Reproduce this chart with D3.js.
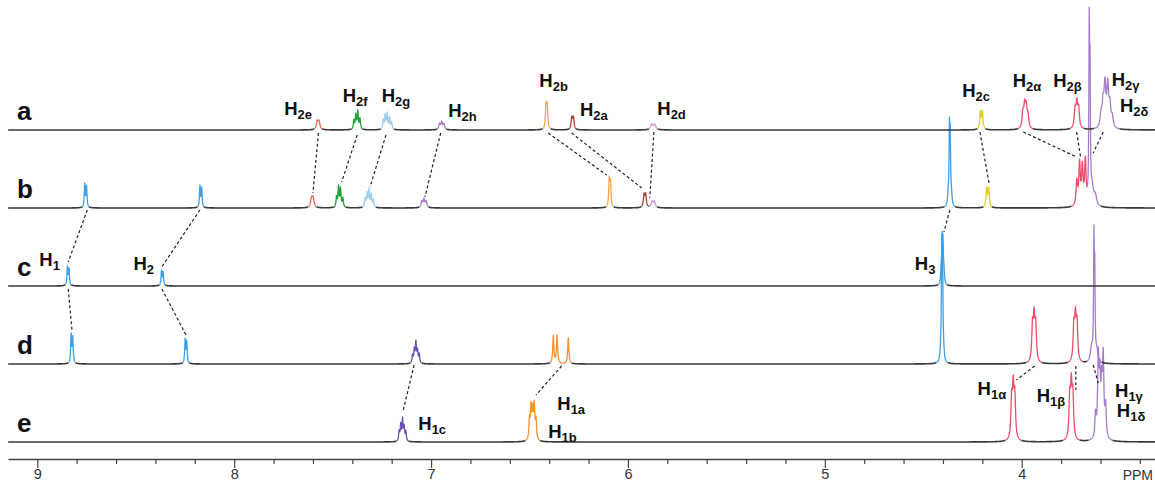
<!DOCTYPE html>
<html>
<head>
<meta charset="utf-8">
<script src="https://cdn.jsdelivr.net/npm/d3@7"></script>
<style>
  html, body { margin: 0; padding: 0; background: #fff; }
  svg { display: block; }
</style>
</head>
<body>
<svg id="chart" width="1155" height="483"></svg>
<script>
// Stacked 1H NMR spectra (traces a–e), chemical shift in ppm.
const traces = ['a', 'b', 'c', 'd', 'e'];

// Multiplets: [group, observed height, line half-width (ppm), [[shift, relative intensity, (own width)], ...]]
const peaksA = [
  ['H2e', 10, 0.0055, [[7.578, 1], [7.569, 1]]],
  ['H2f', 20, 0.0032, [[7.392, .5], [7.382, .8], [7.372, 1], [7.361, .6]]],
  ['H2g', 18, 0.0032, [[7.243, .6], [7.233, .9], [7.223, 1], [7.211, .75], [7.200, .45]]],
  ['H2h', 9, 0.0045, [[6.957, .75], [6.946, 1], [6.935, .75]]],
  ['H2b', 29, 0.0035, [[6.416, 1], [6.410, .95]]],
  ['H2a', 14, 0.004, [[6.285, 1], [6.277, 1]]],
  ['H2d', 6, 0.007, [[5.879, 1], [5.864, 1]]],
  ['H2c', 20, 0.0038, [[4.210, .95], [4.200, 1]]],
  ['Hab', 31, 0.005, [[3.994, .7], [3.985, 1], [3.977, .9], [3.968, .55]]],
  ['Hab', 32, 0.005, [[3.729, .75], [3.720, 1], [3.711, .8]]],
  ['Hgd', 53, 0.0055, [[3.597, .3], [3.587, .55], [3.577, 1], [3.563, 1], [3.552, .5], [3.540, .25]]]
];
const peaksB = [
  ['Hpy', 25, 0.0028, [[8.759, 1], [8.750, .9]]],
  ['Hpy', 23, 0.0028, [[8.174, 1], [8.165, .9]]],
  ['H2e', 12, 0.0055, [[7.607, 1], [7.599, 1]]],
  ['H2f', 23, 0.0032, [[7.480, .5], [7.470, 1], [7.460, .9], [7.448, .45]]],
  ['H2g', 20, 0.0032, [[7.335, .5], [7.325, .8], [7.315, 1], [7.304, .75], [7.293, .45]]],
  ['H2h', 10, 0.0045, [[7.047, .75], [7.036, 1], [7.025, .75]]],
  ['H2b', 32, 0.0032, [[6.095, 1], [6.089, .9]]],
  ['H2a', 15, 0.004, [[5.918, 1], [5.910, 1]]],
  ['H2d', 7, 0.006, [[5.877, 1], [5.866, 1]]],
  ['Hpy', 91, 0.0022, [[4.367, 1], [4.363, .9], [4.373, .15, 0.004], [4.357, .15, 0.004]]],
  ['H2c', 21, 0.0038, [[4.178, 1], [4.168, 1]]],
  ['Hab', 48, 0.0045, [[3.720, .55], [3.706, .95], [3.692, .85], [3.677, 1]]],
  ['Hgd', 198, 0.0022, [[3.657, 1], [3.653, .7], [3.642, .1, 0.008], [3.626, .06, 0.008]]]
];
const peaksC = [
  ['Hpy', 20, 0.0028, [[8.847, 1], [8.839, .9]]],
  ['Hpy', 16, 0.0028, [[8.369, 1], [8.361, .9]]],
  ['Hpy', 55, 0.0024, [[4.404, 1], [4.400, .92], [4.409, .3, 0.003], [4.395, .3, 0.003]]]
];
const peaksD = [
  ['Hpy', 31, 0.0028, [[8.828, 1], [8.820, .9]]],
  ['Hpy', 26, 0.0028, [[8.249, 1], [8.241, .9]]],
  ['H1c', 24, 0.003, [[7.094, .4], [7.085, .65], [7.077, 1], [7.069, .6], [7.060, .45]]],
  ['H1ab', 29, 0.0035, [[6.379, 1], [6.360, 1], [6.303, .93]]],
  ['Hpy', 130, 0.0022, [[4.406, 1], [4.402, .9], [4.411, .08, 0.004], [4.397, .08, 0.004]]],
  ['Hab', 57, 0.0045, [[3.945, .85], [3.937, 1], [3.929, .85]]],
  ['Hab', 57, 0.0045, [[3.735, .85], [3.727, 1], [3.719, .9]]],
  ['Hgd', 139, 0.0022, [[3.633, 1], [3.629, .7], [3.645, .13, 0.007], [3.618, .1, 0.007]]]
];
const peaksE = [
  ['H1c', 25, 0.003, [[7.162, .45], [7.154, .75], [7.145, 1], [7.137, .65], [7.128, .45]]],
  ['H1ab', 42, 0.0035, [[6.500, .6], [6.492, .95], [6.484, .8], [6.476, 1], [6.467, .6]]],
  ['Hab', 67, 0.0045, [[4.051, .8], [4.043, 1], [4.035, .85]]],
  ['Hab', 69, 0.0045, [[3.756, .8], [3.748, 1], [3.740, .85]]],
  ['Hgd', 95, 0.004, [[3.625, .3], [3.611, 1], [3.603, .7], [3.594, .6], [3.586, 1], [3.574, .4]]]
];
const peaksByTrace = { a: peaksA, b: peaksB, c: peaksC, d: peaksD, e: peaksE };

// Assignment labels: [trace, main, subscript, left shift (ppm), height above baseline]
const labels = [
  ['a', 'H', '2e', 7.746, 15], ['a', 'H', '2f', 7.449, 28], ['a', 'H', '2g', 7.251, 28],
  ['a', 'H', '2h', 6.913, 13], ['a', 'H', '2b', 6.450, 43], ['a', 'H', '2a', 6.244, 14],
  ['a', 'H', '2d', 5.851, 15], ['a', 'H', '2c', 4.302, 33], ['a', 'H', '2α', 4.046, 43],
  ['a', 'H', '2β', 3.840, 43], ['a', 'H', '2γ', 3.543, 44], ['a', 'H', '2δ', 3.501, 18],
  ['c', 'H', '1', 8.990, 20], ['c', 'H', '2', 8.512, 16], ['c', 'H', '3', 4.543, 16],
  ['e', 'H', '1c', 7.065, 12], ['e', 'H', '1a', 6.359, 32], ['e', 'H', '1b', 6.405, 4],
  ['e', 'H', '1α', 4.224, 47], ['e', 'H', '1β', 3.924, 40], ['e', 'H', '1γ', 3.526, 45],
  ['e', 'H', '1δ', 3.517, 25]
];

// Correlation links between traces: [[trace, shift, height], [trace, shift, height]]
const links = [
  [['a', 7.572, -3], ['b', 7.600, 15]], [['a', 7.375, -5], ['b', 7.454, 26]],
  [['a', 7.229, -5], ['b', 7.310, 21]], [['a', 6.951, -3], ['b', 7.031, 11]],
  [['a', 6.405, -3], ['b', 6.108, 33]], [['a', 6.286, -3], ['b', 5.930, 20]],
  [['a', 5.868, -2], ['b', 5.889, 10]], [['a', 4.212, -2], ['b', 4.165, 24]],
  [['a', 3.992, -2], ['b', 3.721, 51]], [['a', 3.721, -2], ['b', 3.701, 51]],
  [['a', 3.586, -2], ['b', 3.637, 55]],
  [['b', 8.746, -2], ['c', 8.843, 24]], [['b', 8.174, -2], ['c', 8.368, 19]],
  [['b', 4.365, -2], ['c', 4.395, 54]],
  [['c', 8.843, -3], ['d', 8.824, 34]], [['c', 8.367, -3], ['d', 8.245, 29]],
  [['d', 7.086, -1], ['e', 7.141, 32]], [['d', 6.337, -2], ['e', 6.467, 47]],
  [['d', 3.934, -2], ['e', 4.027, 62]], [['d', 3.725, -2], ['e', 3.725, 52]],
  [['d', 3.637, -1], ['e', 3.611, 59]]
];

const majorTicks = [9, 8, 7, 6, 5, 4];
const axisUnit = 'PPM';

const groupColor = {
  H2e: '#f0654f', H2f: '#20a238', H2g: '#9fd2ea', H2h: '#a47bc6', H2b: '#f9a54c',
  H2a: '#a3452f', H2d: '#d68bcb', H2c: '#e3cc26', Hab: '#ef4c68', Hgd: '#a67ccb',
  Hpy: '#3d9fe8', H1c: '#6a50b6', H1ab: '#f7922c'
};

const W = 1155, H = 483;
const svg = d3.select('#chart');
const font = '"Liberation Sans", Arial, Helvetica, sans-serif';

const x = d3.scaleLinear().domain([9, 4]).range([37.3, 1021.7]);
const ppmLeft = x.invert(8), ppmRight = x.invert(W);
const yTrace = d3.scalePoint().domain(traces).range([130, 442]);
const yInt = d3.scaleLinear().domain([0, 100]).range([0, 100]);
const yOf = (t, v) => yTrace(t) - yInt(v);

// Lorentzian line shape
const lor = (p, p0, w) => 1 / (1 + ((p - p0) / w) * ((p - p0) / w));

function buildTrace(t) {
  const mults = peaksByTrace[t].map(([group, height, w, lines]) => {
    const ls = lines.map(([p0, r, ow]) => ({ p0, r, w: ow || w }));
    const f = p => d3.sum(ls, l => l.r * lor(p, l.p0, l.w));
    const lo = d3.min(ls, l => l.p0), hi = d3.max(ls, l => l.p0);
    let peak = 0;
    for (let p = lo - 0.01; p <= hi + 0.01; p += 0.0002) peak = Math.max(peak, f(p));
    ls.forEach(l => { peak = Math.max(peak, f(l.p0)); });
    const k = height / peak;
    const pad = Math.max(0.011, w * Math.sqrt(height) * 0.9);
    return { group, fn: p => k * f(p), lineLo: lo, lineHi: hi, lo: lo - pad, hi: hi + pad, ls };
  });
  // resolve overlapping colour ranges of neighbouring multiplets
  const sorted = mults.slice().sort((m1, m2) => m1.lineLo - m2.lineLo);
  for (let i = 1; i < sorted.length; i++) {
    const A = sorted[i - 1], B = sorted[i];
    if (A.hi > B.lo) { const mid = (A.lineHi + B.lineLo) / 2; A.hi = mid; B.lo = mid; }
  }
  // sample grid: uniform plus every line position and range edge
  const pts = d3.range(ppmRight, ppmLeft, 0.001);
  mults.forEach(m => { m.ls.forEach(l => pts.push(l.p0)); pts.push(m.lo, m.hi); });
  pts.sort((p1, p2) => p1 - p2);
  const total = p => d3.sum(mults, m => m.fn(p));
  const samples = pts.map(p => ({ p, v: total(p) }));
  return { mults, samples };
}

const line = t => d3.line().x(d => x(d.p)).y(d => yOf(t, d.v));

const gSpec = svg.append('g');
// bottom trace first so upper baselines sit on top
traces.slice().reverse().forEach(t => {
  const { mults, samples } = buildTrace(t);
  const inColour = p => mults.some(m => p > m.lo && p < m.hi);
  gSpec.append('path')
    .attr('d', line(t).defined(d => !inColour(d.p))(samples))
    .attr('fill', 'none').attr('stroke', '#3a3a3a').attr('stroke-width', 1.6);
  mults.forEach(m => {
    gSpec.append('path')
      .attr('d', line(t)(samples.filter(d => d.p >= m.lo && d.p <= m.hi)))
      .attr('fill', 'none').attr('stroke', groupColor[m.group])
      .attr('stroke-width', 1.3).attr('stroke-linejoin', 'round');
  });
});

// dashed correlation links
svg.append('g').selectAll('line').data(links).join('line')
  .attr('x1', d => x(d[0][1])).attr('y1', d => yOf(d[0][0], d[0][2]))
  .attr('x2', d => x(d[1][1])).attr('y2', d => yOf(d[1][0], d[1][2]))
  .attr('stroke', '#222').attr('stroke-width', 1.2).attr('stroke-dasharray', '3,2.4');

// trace letters
svg.append('g').selectAll('text').data(traces).join('text')
  .attr('x', 17).attr('y', d => yTrace(d) - 10)
  .attr('font-family', font).attr('font-weight', 'bold').attr('font-size', 26)
  .attr('fill', '#111').text(d => d);

// assignment labels
const lab = svg.append('g').selectAll('text').data(labels).join('text')
  .attr('x', d => x(d[3])).attr('y', d => yOf(d[0], d[4]))
  .attr('font-family', font).attr('font-weight', 'bold').attr('font-size', 18.5).attr('fill', '#111');
lab.append('tspan').text(d => d[1]);
lab.append('tspan').attr('font-size', 13).attr('dy', 4).text(d => d[2]);

// shift axis
const xAxisScale = x.copy().domain([ppmLeft, ppmRight]).range([8, W]);
const tickVals = d3.range(90, 33, -2).map(v => v / 10);
const gAxis = svg.append('g').attr('transform', 'translate(0,459)')
  .call(d3.axisBottom(xAxisScale).tickValues(tickVals).tickSize(5).tickSizeOuter(0)
    .tickFormat(v => majorTicks.includes(v) ? v : ''));
gAxis.select('.domain').attr('stroke', '#444').attr('stroke-width', 1.4);
gAxis.selectAll('.tick line').attr('stroke', '#444').attr('stroke-width', 1.2)
  .attr('y2', v => majorTicks.includes(v) ? 9 : 5);
gAxis.selectAll('.tick text').attr('y', 10).attr('font-family', font)
  .attr('font-size', 14.5).attr('fill', '#333');
svg.append('text').attr('x', xAxisScale(3.4) - 2).attr('y', 480).attr('text-anchor', 'middle')
  .attr('font-family', font).attr('font-size', 14).attr('fill', '#333').text(axisUnit);
</script>
</body>
</html>
